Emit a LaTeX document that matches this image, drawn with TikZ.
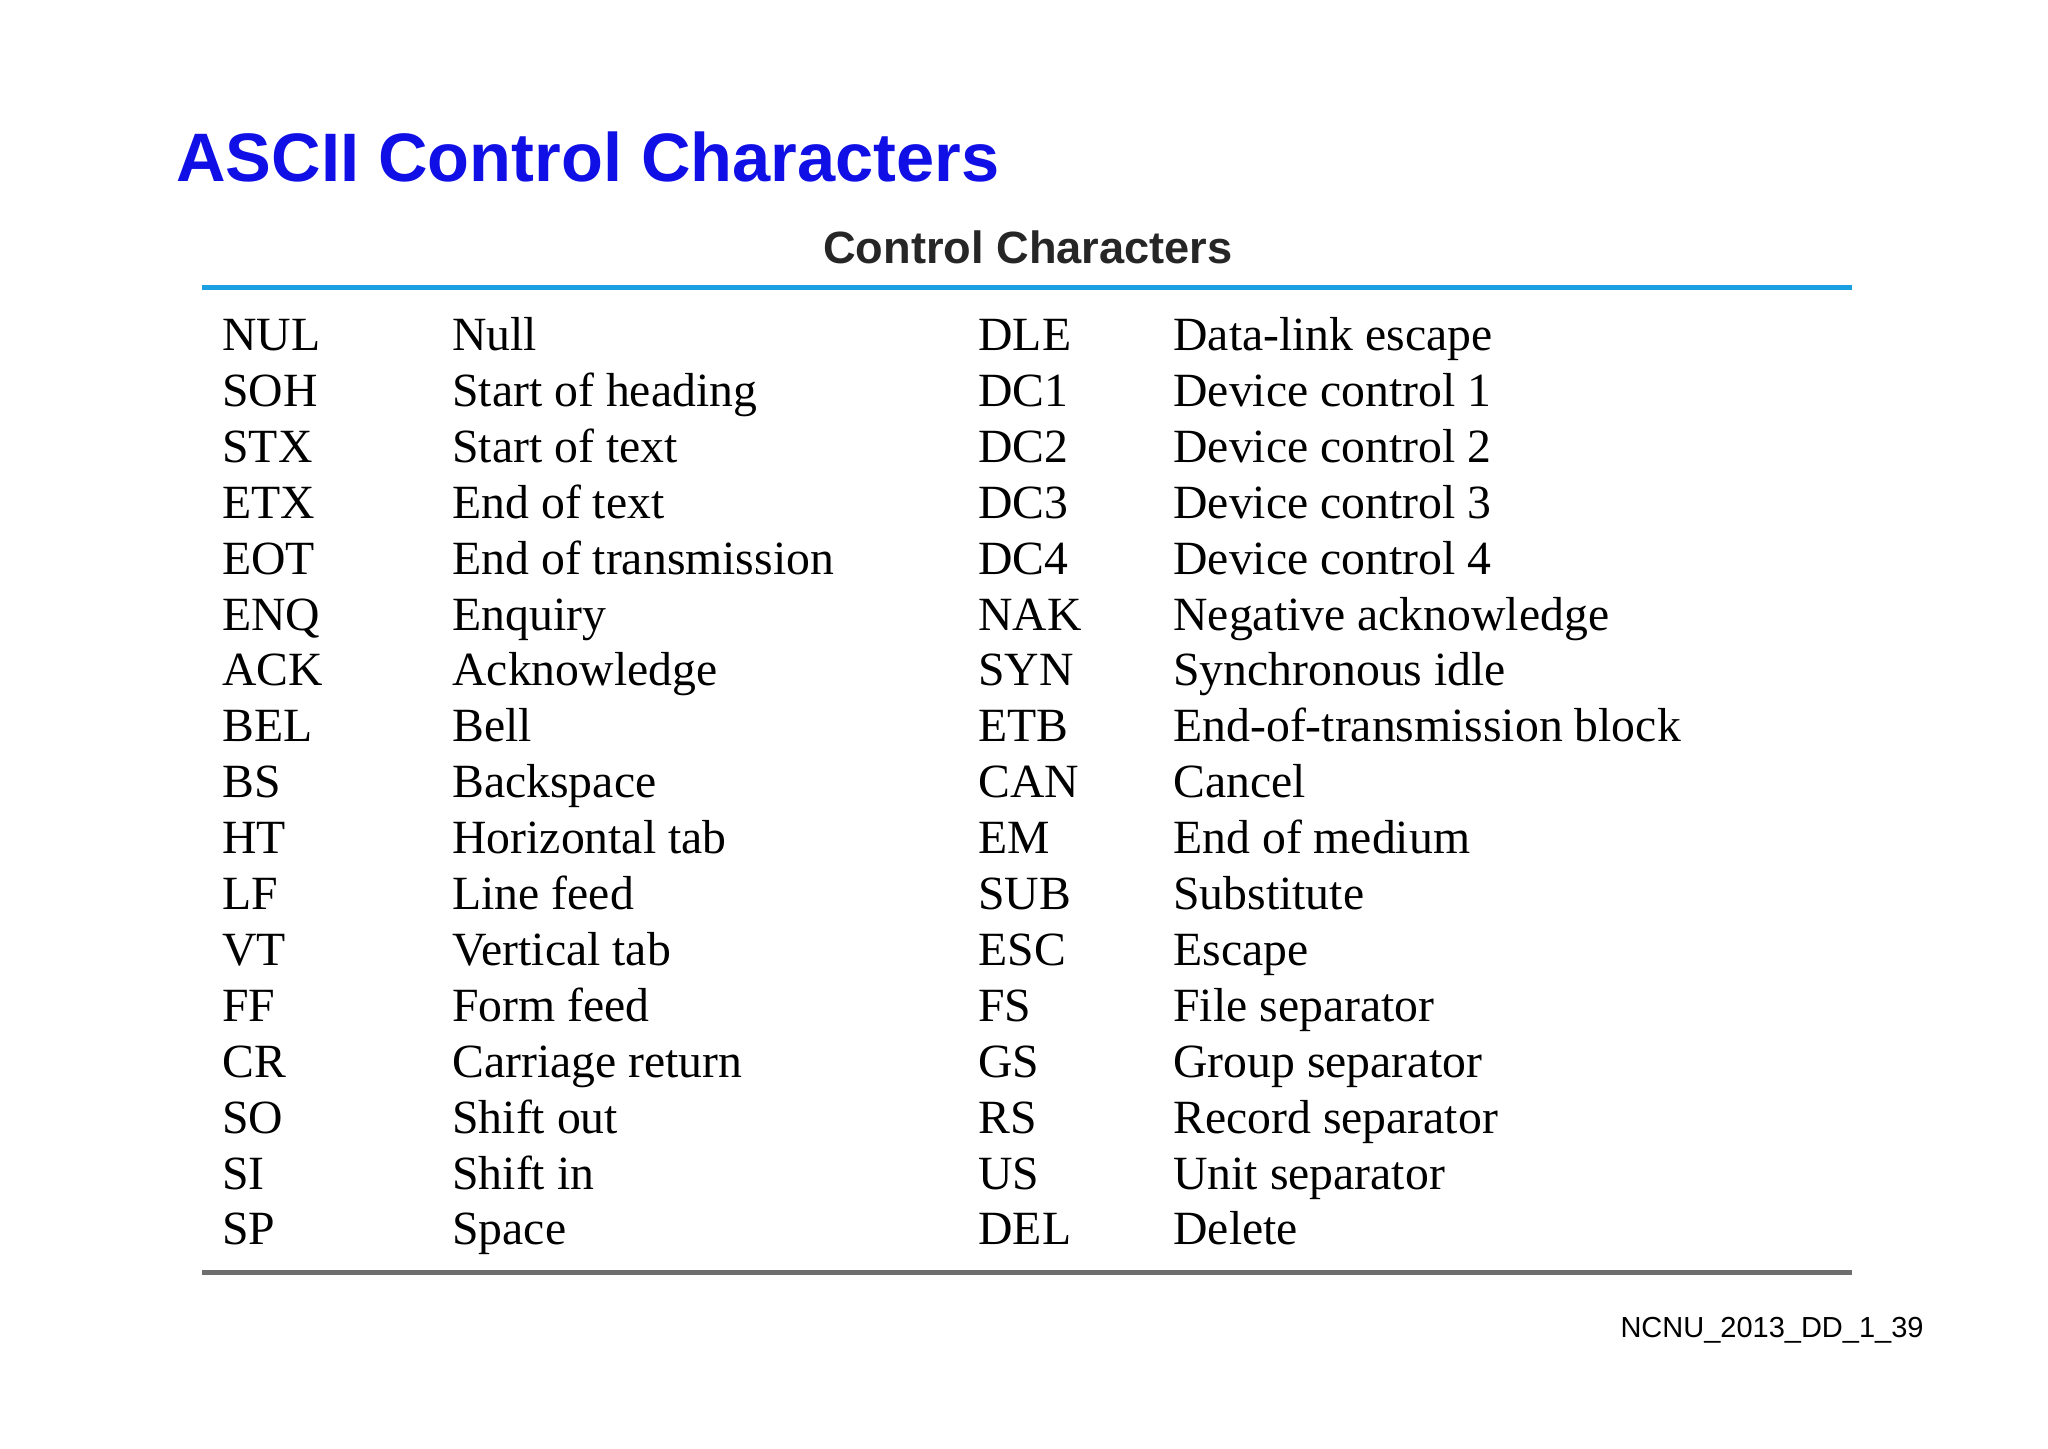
\documentclass[tikz,border=0pt]{standalone}
\usepackage{fontspec}
\setmainfont{Liberation Serif}
\setsansfont{Liberation Sans}
\definecolor{titleblue}{RGB}{16,16,230}
\definecolor{ruleblue}{RGB}{26,160,225}
\definecolor{rulegray}{RGB}{110,110,110}
\begin{document}
\begin{tikzpicture}[x=0.5pt,y=-0.5pt,
  cell/.style={anchor=base west,inner sep=0pt,font=\fontsize{23.85}{28}\selectfont}]
\useasboundingbox (0,0) rectangle (2048,1448);
\node[anchor=base west,inner sep=0pt,text=titleblue,font=\sffamily\bfseries\fontsize{34.3}{40}\selectfont] (title) at (176,181) {ASCII Control Characters};
\node[anchor=base,inner sep=0pt,font=\sffamily\bfseries\fontsize{22.6}{24}\selectfont,text=black!85] (sub) at (1028,263) {Control Characters};
\coordinate (tl) at (202,287); \coordinate (tr) at (1852,287);
\coordinate (bl) at (202,1272); \coordinate (br) at (1852,1272);
\draw[ruleblue,line width=2.5pt] (tl) -- (tr);
\draw[rulegray,line width=2.5pt] (bl) -- (br);
\foreach \i/\a/\b/\c/\d in {
0/NUL/Null/DLE/Data-link escape,
1/SOH/Start of heading/DC1/Device control 1,
2/STX/Start of text/DC2/Device control 2,
3/ETX/End of text/DC3/Device control 3,
4/EOT/End of transmission/DC4/Device control 4,
5/ENQ/Enquiry/NAK/Negative acknowledge,
6/ACK/Acknowledge/SYN/Synchronous idle,
7/BEL/Bell/ETB/End-of-transmission block,
8/BS/Backspace/CAN/Cancel,
9/HT/Horizontal tab/EM/End of medium,
10/LF/Line feed/SUB/Substitute,
11/VT/Vertical tab/ESC/Escape,
12/FF/Form feed/FS/File separator,
13/CR/Carriage return/GS/Group separator,
14/SO/Shift out/RS/Record separator,
15/SI/Shift in/US/Unit separator,
16/SP/Space/DEL/Delete}{
  \pgfmathsetmacro\yy{350.5+55.9*\i}
  \node[cell] (a\i) at (222,\yy) {\a};
  \node[cell] (b\i) at (452,\yy) {\b};
  \node[cell] (c\i) at (978,\yy) {\c};
  \node[cell] (d\i) at (1173,\yy) {\d};
}
\node[anchor=base east,inner sep=0pt,font=\sffamily\fontsize{14.5}{16}\selectfont] (foot) at (1924,1337) {NCNU\_2013\_DD\_1\_39};
\end{tikzpicture}
\end{document}
